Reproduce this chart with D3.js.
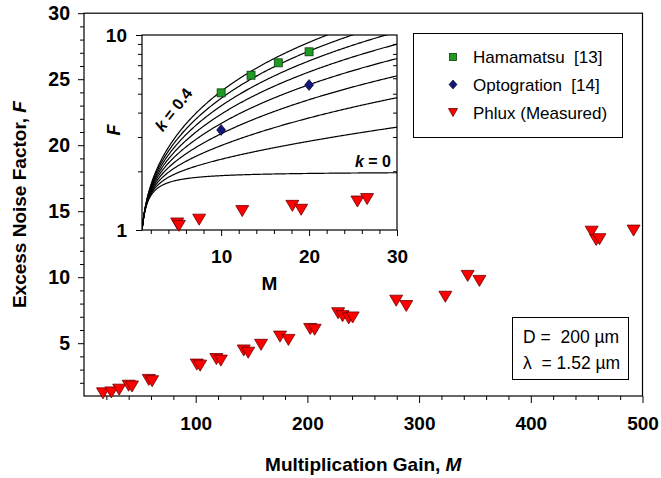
<!DOCTYPE html>
<html>
<head>
<meta charset="utf-8">
<script src="https://cdn.jsdelivr.net/npm/d3@7"></script>
<style>
  html, body { margin: 0; padding: 0; background: #fff; }
  svg { display: block; }
  text { font-family: "Liberation Sans", Arial, Helvetica, sans-serif; fill: #000; white-space: pre; }
</style>
</head>
<body>
<svg id="chart" width="661" height="478"></svg>
<script>
// ---------------- DATA ----------------
// Main plot: Phlux (Measured) excess noise factor vs multiplication gain
const phluxM = [17, 24.5, 31.5, 40, 43, 58, 61, 101, 104, 118.5, 122.5, 143, 147, 158.5, 175.5, 183,
                202.5, 206.5, 227.5, 231.5, 237, 240.5, 279.5, 288.5, 323.5, 343.5, 354, 454.5, 458.5, 461.5, 492];
const phluxF = [1.2, 1.27, 1.48, 1.78, 1.72, 2.22, 2.12, 3.38, 3.3, 3.8, 3.68, 4.45, 4.28, 4.88, 5.5, 5.25,
                6.08, 6.02, 7.27, 7.05, 6.88, 6.95, 8.22, 7.82, 8.52, 10.1, 9.72, 13.45, 12.82, 12.88, 13.53];

// Inset: low-gain region (log F)
const insetPhluxM = [5.0, 5.2, 7.5, 12.4, 18.1, 19.1, 25.5, 26.6];
const insetPhluxF = [1.08, 1.05, 1.13, 1.25, 1.33, 1.27, 1.40, 1.44];
const hamamatsuM = [10, 13.4, 16.5, 20];
const hamamatsuF = [5.05, 6.22, 7.2, 8.2];
const optograM = [10, 20];
const optograF = [3.26, 5.54];

// McIntyre local-model curves, k = 0 ... 0.4
const kValues = [0, 0.05, 0.1, 0.15, 0.2, 0.25, 0.3, 0.35, 0.4];
const mcintyre = (M, k) => k * M + (1 - k) * (2 - 1 / M);

// Tick labels
const mainXTicks = [100, 200, 300, 400, 500];
const mainYTicks = [5, 10, 15, 20, 25, 30];
const insetXTicks = [10, 20, 30];
const insetYTicks = [1, 10];

const legendLabels = ["Hamamatsu  [13]", "Optogration  [14]", "Phlux (Measured)"];

// ---------------- DRAW ----------------
const svg = d3.select("#chart");
const FONT = '"Liberation Sans", Arial, Helvetica, sans-serif';

const x = d3.scaleLinear().domain([0, 500]).range([84, 642.5]);
const y = d3.scaleLinear().domain([1, 30]).range([396, 13.2]);

const TRI = "M-6.5,-5.5L6.5,-5.5L0,5.5Z";
const RED = "#ff0000", REDSTROKE = "#6a0000";
const GREEN = "#1f9a25", GREENSTROKE = "#0b3d0b";
const NAVY = "#15157f";

// main frame
svg.append("rect").attr("x", x(0)).attr("y", y(30)).attr("width", x(500) - x(0)).attr("height", y(1) - y(30))
  .attr("fill", "none").attr("stroke", "#000").attr("stroke-width", 1.2);

// main x axis: minor + major
const gx = svg.append("g").attr("transform", `translate(0,${y(1)})`);
gx.call(d3.axisBottom(x).tickValues(d3.range(20, 500, 20).filter(v => v % 100 !== 0)).tickSize(4).tickFormat(""));
gx.call(g => g.select(".domain").remove());
const gx2 = svg.append("g").attr("transform", `translate(0,${y(1)})`);
gx2.call(d3.axisBottom(x).tickValues(mainXTicks).tickSize(7).tickPadding(14).tickFormat(d3.format("d")));
gx2.select(".domain").remove();
gx2.selectAll("text").attr("font-family", FONT).attr("font-size", 19).attr("font-weight", "bold").attr("fill", "#000");

// main y axis
const gy = svg.append("g").attr("transform", `translate(${x(0)},0)`);
gy.call(d3.axisLeft(y).tickValues(d3.range(2, 30, 1).filter(v => v % 5 !== 0)).tickSize(4).tickFormat(""));
gy.select(".domain").remove();
const gy2 = svg.append("g").attr("transform", `translate(${x(0)},0)`);
gy2.call(d3.axisLeft(y).tickValues(mainYTicks).tickSize(6).tickPadding(8).tickFormat(d3.format("d")));
gy2.select(".domain").remove();
gy2.selectAll("text").attr("font-family", FONT).attr("font-size", 19.5).attr("font-weight", "bold").attr("fill", "#000");

// axis titles
const xt = svg.append("text").attr("x", (x(0) + x(500)) / 2).attr("y", 471).attr("text-anchor", "middle")
  .attr("font-size", 19).attr("font-weight", "bold");
xt.append("tspan").text("Multiplication Gain, ");
xt.append("tspan").attr("font-style", "italic").text("M");
const yt = svg.append("text").attr("transform", `translate(26,${(y(1) + y(30)) / 2}) rotate(-90)`).attr("text-anchor", "middle")
  .attr("font-size", 19).attr("font-weight", "bold");
yt.append("tspan").text("Excess Noise Factor, ");
yt.append("tspan").attr("font-style", "italic").text("F");

// main data
svg.append("g").selectAll("path").data(phluxM.map((m, i) => [m, phluxF[i]])).join("path")
  .attr("d", TRI).attr("transform", d => `translate(${x(d[0])},${y(d[1])})`)
  .attr("fill", RED).attr("stroke", REDSTROKE).attr("stroke-width", 0.8);

// ---------------- INSET ----------------
const xi = d3.scaleLinear().domain([1, 30]).range([142, 397]);
const yi = d3.scaleLog().domain([1, 10]).range([230, 35]);

svg.append("rect").attr("x", xi(1)).attr("y", yi(10)).attr("width", xi(30) - xi(1)).attr("height", yi(1) - yi(10))
  .attr("fill", "#fff").attr("stroke", "none");

svg.append("defs").append("clipPath").attr("id", "insetClip").append("rect")
  .attr("x", xi(1)).attr("y", yi(10)).attr("width", xi(30) - xi(1)).attr("height", yi(1) - yi(10));

const Ms = d3.range(1, 30.001, 0.1);
const line = d3.line().x(d => xi(d[0])).y(d => yi(d[1]));
svg.append("g").attr("clip-path", "url(#insetClip)").selectAll("path").data(kValues).join("path")
  .attr("d", k => line(Ms.map(m => [m, mcintyre(m, k)])))
  .attr("fill", "none").attr("stroke", "#000").attr("stroke-width", 1.2);

// inset frame
svg.append("rect").attr("x", xi(1)).attr("y", yi(10)).attr("width", xi(30) - xi(1)).attr("height", yi(1) - yi(10))
  .attr("fill", "none").attr("stroke", "#000").attr("stroke-width", 1.2);

// inset axes
const ix1 = svg.append("g").attr("transform", `translate(0,${yi(1)})`);
ix1.call(d3.axisBottom(xi).tickValues(d3.range(2, 30, 2).filter(v => v % 10 !== 0)).tickSize(4).tickFormat(""));
ix1.select(".domain").remove();
const ix2 = svg.append("g").attr("transform", `translate(0,${yi(1)})`);
ix2.call(d3.axisBottom(xi).tickValues(insetXTicks).tickSize(6).tickPadding(14).tickFormat(d3.format("d")));
ix2.select(".domain").remove();
ix2.selectAll("text").attr("font-family", FONT).attr("font-size", 19).attr("font-weight", "bold").attr("fill", "#000");

const iy1 = svg.append("g").attr("transform", `translate(${xi(1)},0)`);
iy1.call(d3.axisLeft(yi).tickValues(d3.range(2, 10)).tickSize(4).tickFormat(""));
iy1.select(".domain").remove();
const iy2 = svg.append("g").attr("transform", `translate(${xi(1)},0)`);
iy2.call(d3.axisLeft(yi).tickValues(insetYTicks).tickSize(6).tickPadding(9).tickFormat(d3.format("d")));
iy2.select(".domain").remove();
iy2.selectAll("text").attr("font-family", FONT).attr("font-size", 19).attr("font-weight", "bold").attr("fill", "#000");
const iy3 = svg.append("g").attr("transform", `translate(${xi(30)},0)`);
iy3.call(d3.axisLeft(yi).tickValues(d3.range(2, 10)).tickSize(4).tickFormat(""));
iy3.select(".domain").remove();
svg.selectAll(".tick line").attr("stroke", "#000");

// inset labels
svg.append("text").attr("x", (xi(1) + xi(30)) / 2).attr("y", 290).attr("text-anchor", "middle")
  .attr("font-size", 19).attr("font-weight", "bold").text("M");
svg.append("text").attr("transform", `translate(120,130) rotate(-90)`).attr("text-anchor", "middle")
  .attr("font-size", 18).attr("font-weight", "bold").attr("font-style", "italic").text("F");
const k4 = svg.append("text").attr("transform", "translate(178,113) rotate(-52)").attr("text-anchor", "middle")
  .attr("font-size", 16).attr("font-weight", "bold");
k4.append("tspan").attr("font-style", "italic").text("k");
k4.append("tspan").text(" = 0.4");
const k0 = svg.append("text").attr("x", 391).attr("y", 167).attr("text-anchor", "end")
  .attr("font-size", 16).attr("font-weight", "bold");
k0.append("tspan").attr("font-style", "italic").text("k");
k0.append("tspan").text(" = 0");

// inset markers
svg.append("g").selectAll("rect").data(hamamatsuM.map((m, i) => [m, hamamatsuF[i]])).join("rect")
  .attr("x", d => xi(d[0]) - 4).attr("y", d => yi(d[1]) - 4).attr("width", 8).attr("height", 8)
  .attr("fill", GREEN).attr("stroke", GREENSTROKE).attr("stroke-width", 0.8);
svg.append("g").selectAll("path").data(optograM.map((m, i) => [m, optograF[i]])).join("path")
  .attr("d", "M0,-5.5L4.5,0L0,5.5L-4.5,0Z").attr("transform", d => `translate(${xi(d[0])},${yi(d[1])})`)
  .attr("fill", NAVY).attr("stroke", "#000").attr("stroke-width", 0.6);
svg.append("g").selectAll("path").data(insetPhluxM.map((m, i) => [m, insetPhluxF[i]])).join("path")
  .attr("d", TRI).attr("transform", d => `translate(${xi(d[0])},${yi(d[1])})`)
  .attr("fill", RED).attr("stroke", REDSTROKE).attr("stroke-width", 0.8);

// ---------------- LEGEND ----------------
svg.append("rect").attr("x", 413.5).attr("y", 33.5).attr("width", 209).attr("height", 104)
  .attr("fill", "#fff").attr("stroke", "#000").attr("stroke-width", 1);
const legY = [57, 84.5, 112.5];
svg.append("rect").attr("x", 453 - 3.5).attr("y", legY[0] - 3.5).attr("width", 7).attr("height", 7)
  .attr("fill", GREEN).attr("stroke", GREENSTROKE).attr("stroke-width", 0.8);
svg.append("path").attr("d", "M0,-4.5L4,0L0,4.5L-4,0Z").attr("transform", `translate(453,${legY[1]})`)
  .attr("fill", NAVY).attr("stroke", "#000").attr("stroke-width", 0.6);
svg.append("path").attr("d", "M-4.5,-4L4.5,-4L0,4Z").attr("transform", `translate(453,${legY[2]})`)
  .attr("fill", RED).attr("stroke", REDSTROKE).attr("stroke-width", 0.8);
svg.append("g").selectAll("text").data(legendLabels).join("text")
  .attr("x", 473).attr("y", (d, i) => legY[i] + 6).attr("font-size", 17).text(d => d);

// ---------------- INFO BOX ----------------
svg.append("rect").attr("x", 512.5).attr("y", 317.5).attr("width", 116).attr("height", 62)
  .attr("fill", "#fff").attr("stroke", "#000").attr("stroke-width", 1);
svg.append("text").attr("x", 523).attr("y", 343).attr("font-size", 17.5).text("D =  200 µm");
svg.append("text").attr("x", 523).attr("y", 369).attr("font-size", 17.5).text("λ  = 1.52 µm");
</script>
</body>
</html>
